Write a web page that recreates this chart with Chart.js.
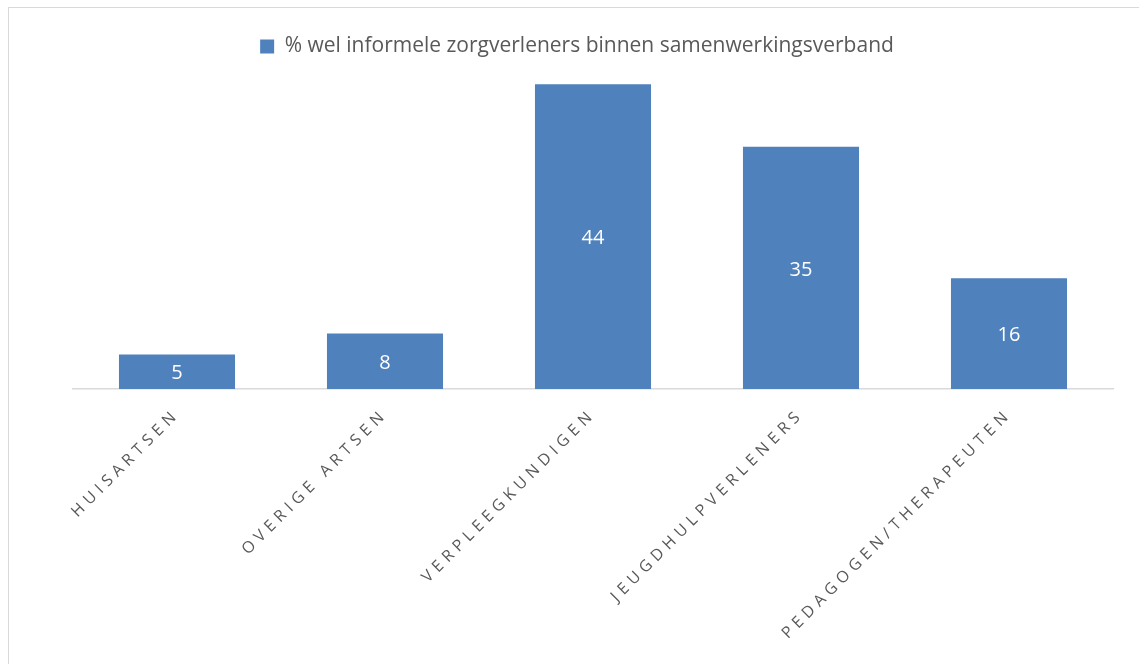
<!DOCTYPE html>
<html>
<head>
<meta charset="utf-8">
<script src="https://cdn.jsdelivr.net/npm/chart.js@4"></script>
<style>
  body { margin: 0; background: #fff; overflow: hidden; }
  #frame { position: absolute; left: 8px; top: 7px; width: 1200px; height: 700px; border: 1.5px solid #d9d9d9; }
  #chart { position: absolute; left: 0; top: 0; }
</style>
</head>
<body>
<div id="frame"></div>
<canvas id="chart" width="1139" height="664"></canvas>
<script>
const categories = ['HUISARTSEN', 'OVERIGE ARTSEN', 'VERPLEEGKUNDIGEN', 'JEUGDHULPVERLENERS', 'PEDAGOGEN/THERAPEUTEN'];
const seriesName = '% wel informele zorgverleners binnen samenwerkingsverband';
const values = [5, 8, 44, 35, 16];

const barColor = '#4f81bd';

// value labels inside the bars, then letter-spaced tick labels (drawn after datasets)
const valueLabels = {
  id: 'valueLabels',
  afterLayout(chart) {
    // legend sits a little left of the plot centre in the original
    chart.legend.left -= 16;
    chart.legend.right -= 16;
    chart.legend.adjustHitBoxes();
  },
  beforeDraw(chart) { chart.ctx.letterSpacing = '0px'; },
  afterDatasetsDraw(chart) {
    const ctx = chart.ctx;
    const meta = chart.getDatasetMeta(0);
    ctx.save();
    ctx.font = '20px "Open Sans"';
    ctx.fillStyle = '#ffffff';
    ctx.textAlign = 'center';
    ctx.textBaseline = 'middle';
    meta.data.forEach((bar, i) => {
      ctx.fillText(String(values[i]), bar.x, (bar.y + bar.base) / 2 + 2);
    });
    ctx.restore();
    ctx.letterSpacing = '5px';
  },
  afterDraw(chart) { chart.ctx.letterSpacing = '0px'; }
};

new Chart(document.getElementById('chart'), {
  type: 'bar',
  data: {
    labels: categories,
    datasets: [{
      label: seriesName,
      data: values,
      backgroundColor: barColor,
      borderWidth: 0,
      categoryPercentage: 1,
      barPercentage: 0.558,
    }],
  },
  options: {
    responsive: false,
    animation: false,
    layout: { padding: { left: 73, right: 26, top: 13, bottom: 0 } },
    plugins: {
      legend: {
        display: true,
        position: 'top',
        labels: {
          font: { family: 'Open Sans', size: 21 },
          color: '#595959',
          boxWidth: 14,
          boxHeight: 14,
          padding: 23,
        },
      },
      tooltip: { enabled: false },
    },
    scales: {
      x: {
        grid: { display: false, drawTicks: false },
        border: { color: '#d9d9d9', width: 1.5 },
        ticks: {
          z: 1,
          minRotation: 45,
          maxRotation: 45,
          padding: 16,
          color: '#595959',
          font: { family: 'Open Sans', size: 16 },
        },
        afterFit(scale) { scale.height = 275; },
      },
      y: {
        display: false,
        min: 0,
        max: 46.5,
      },
    },
  },
  plugins: [valueLabels],
});
</script>
</body>
</html>
